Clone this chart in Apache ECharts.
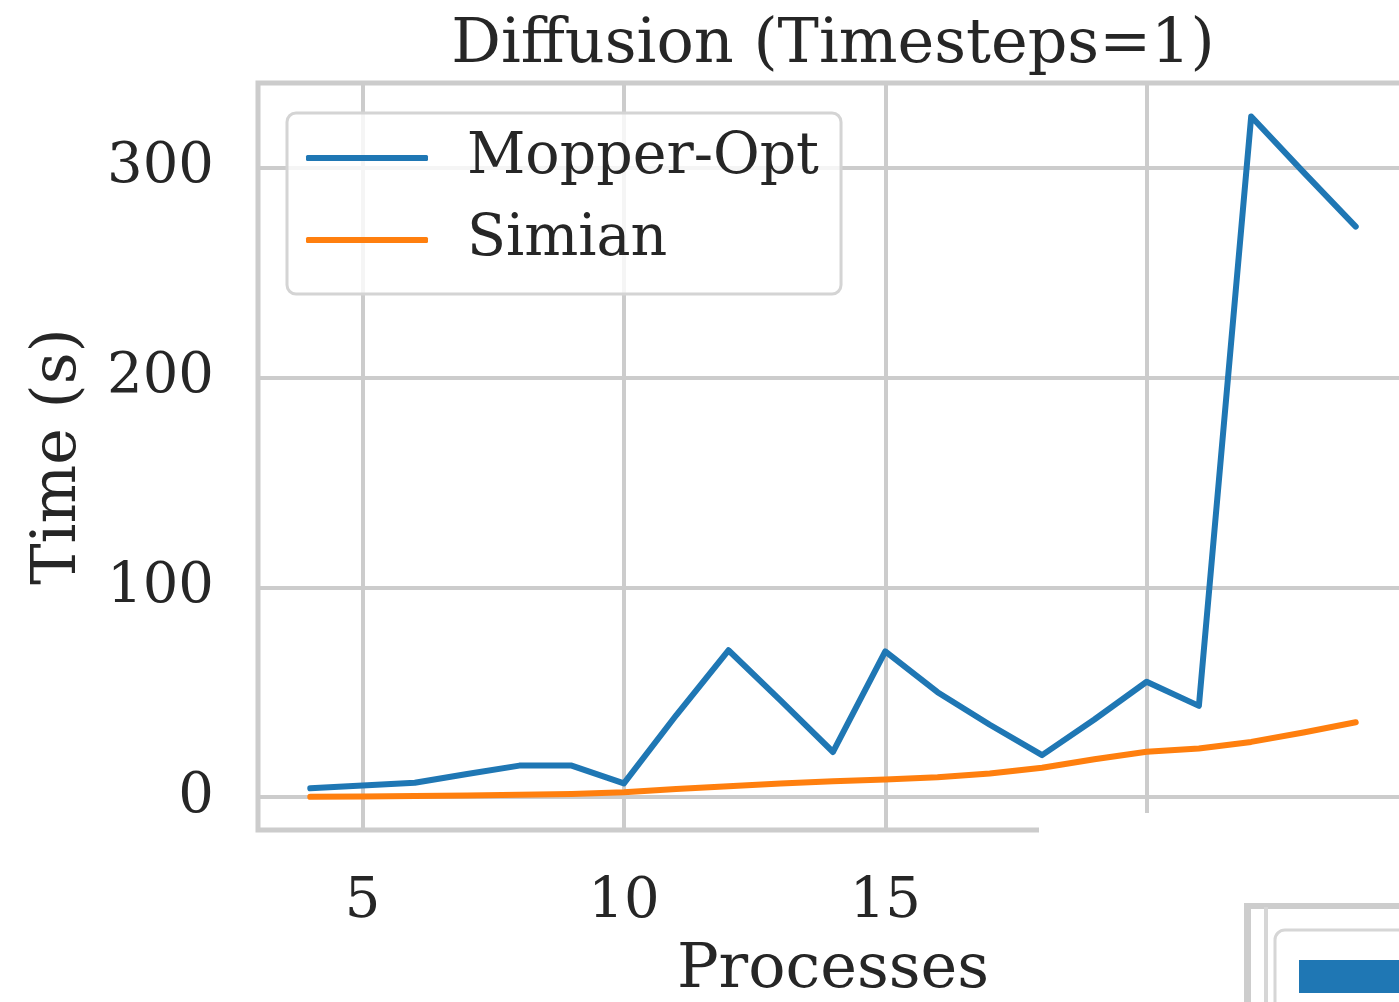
<!DOCTYPE html>
<html>
<head>
<meta charset="utf-8">
<script src="https://cdn.jsdelivr.net/npm/echarts@6/dist/echarts.min.js"></script>
<style>
html,body{margin:0;padding:0;background:#fff;}
#chart{width:1399px;height:1002px;}
</style>
</head>
<body>
<div id="chart"></div>
<script>
const processes = [4,5,6,7,8,9,10,11,12,13,14,15,16,17,18,19,20,21,22,23,24];
const mopperOpt = [4.2,5.5,6.8,11,15,15,6.5,39,70,46,21.5,69.5,50,34.5,20,37,55,43.5,324.5,298,272];
const simian = [0.1,0.3,0.5,0.8,1.1,1.5,2.3,3.8,5.2,6.5,7.5,8.4,9.4,11.2,14,18,21.6,23.2,26.3,30.8,35.7];
const xTicks = [5,10,15,20];
const yTicks = [0,100,200,300];
const titleText = 'Diffusion (Timesteps=1)';
const xName = 'Processes';
const yName = 'Time (s)';
const seriesNames = ['Mopper-Opt','Simian'];

const FONT = 'DejaVu Serif';
const TXT = '#262626';
const GRIDC = '#cccccc';

const chart = echarts.init(document.getElementById('chart'));
const pairs = (xs, ys) => xs.map((x,i)=>[x, ys[i]]);

chart.setOption({
  animation: false,
  backgroundColor: '#ffffff',
  title: {
    text: titleText,
    left: 833, top: 15, textAlign: 'center', padding: 0,
    textStyle: {fontFamily: FONT, fontSize: 62, fontWeight: 'normal', color: TXT}
  },
  grid: {
    left: 258, top: 83, width: 1150, height: 747,
    outerBoundsMode: 'none', containLabel: false,
    show: true, borderColor: GRIDC, borderWidth: 5, backgroundColor: 'transparent'
  },
  legend: {
    orient: 'vertical', left: 287, top: 113,
    icon: 'roundRect',
    itemWidth: 122, itemHeight: 6, itemGap: 12,
    padding: [10, 22, 19, 19],
    backgroundColor: 'rgba(255,255,255,0.8)',
    borderColor: '#d4d4d4', borderWidth: 3, borderRadius: 9,
    textStyle: {fontFamily: FONT, fontSize: 57, color: TXT, lineHeight: 60, padding: [10,0,0,34]},
    data: seriesNames
  },
  xAxis: {
    type: 'value', min: 3, max: 25,
    name: xName, nameLocation: 'middle', nameGap: 110,
    nameTextStyle: {fontFamily: FONT, fontSize: 62, color: TXT},
    axisLine: {show: false},
    axisTick: {show: false, customValues: xTicks},
    axisLabel: {customValues: xTicks, fontFamily: FONT, fontSize: 56, color: TXT, margin: 44},
    splitLine: {show: true, lineStyle: {color: GRIDC, width: 4}}
  },
  yAxis: {
    type: 'value', min: -15.7, max: 340.5,
    name: yName, nameLocation: 'middle', nameGap: 168, nameRotate: 90,
    nameTextStyle: {fontFamily: FONT, fontSize: 62, color: TXT},
    axisLine: {show: false},
    axisTick: {show: false, customValues: yTicks},
    axisLabel: {customValues: yTicks, fontFamily: FONT, fontSize: 56, color: TXT, margin: 44},
    splitLine: {show: true, lineStyle: {color: GRIDC, width: 4}}
  },
  series: [
    {name: seriesNames[0], type: 'line', data: pairs(processes, mopperOpt), showSymbol: false, symbol: 'none',
     color: '#1f77b4', lineStyle: {width: 6, cap: 'round', join: 'round'}, z: 3},
    {name: seriesNames[1], type: 'line', data: pairs(processes, simian), showSymbol: false, symbol: 'none',
     color: '#ff7f0e', lineStyle: {width: 6, cap: 'round', join: 'round'}, z: 3}
  ],
  graphic: [
    {type: 'rect', z: 100, shape: {x: 1039, y: 813, width: 400, height: 200}, style: {fill: '#ffffff'}},
    {type: 'rect', z: 101, shape: {x: 1244, y: 903, width: 200, height: 6}, style: {fill: '#cdcdcd'}},
    {type: 'rect', z: 101, shape: {x: 1244, y: 903, width: 7, height: 120}, style: {fill: '#cdcdcd'}},
    {type: 'rect', z: 101, shape: {x: 1264, y: 907, width: 4, height: 120}, style: {fill: '#d6d6d6'}},
    {type: 'rect', z: 101, shape: {x: 1275, y: 930, width: 200, height: 120, r: 10}, style: {fill: '#ffffff', stroke: '#d6d6d6', lineWidth: 3}},
    {type: 'rect', z: 102, shape: {x: 1299, y: 960, width: 120, height: 33}, style: {fill: '#1f77b4'}}
  ]
});
</script>
</body>
</html>
